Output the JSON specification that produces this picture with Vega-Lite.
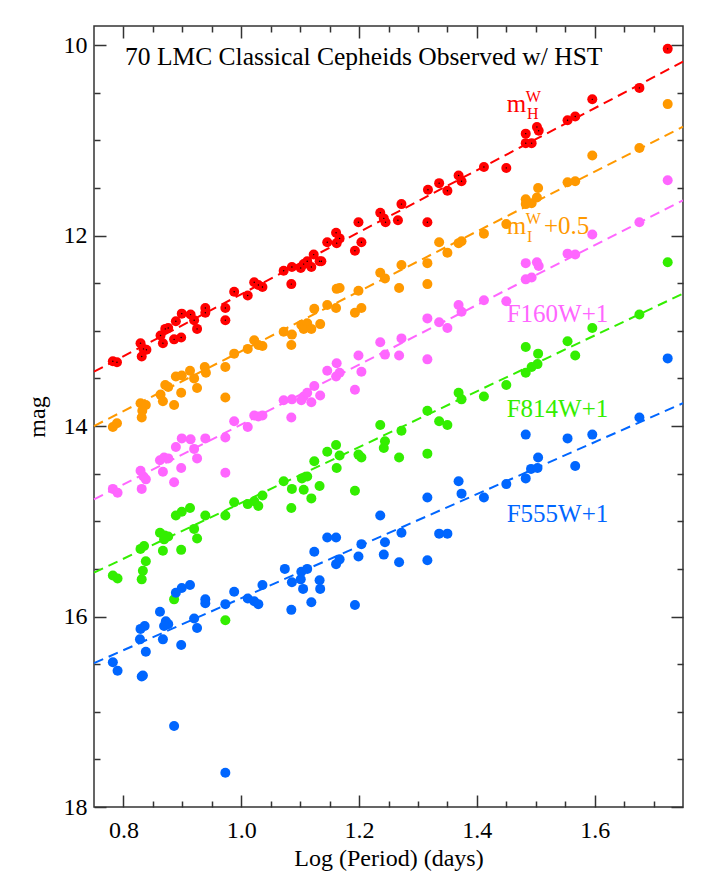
{
  "$schema": "https://vega.github.io/schema/vega-lite/v6.json",
  "autosize": {"type": "none"},
  "padding": {"left": 94, "top": 26, "right": 22, "bottom": 65},
  "width": 589,
  "height": 781,
  "background": "white",
  "config": {
    "view": {"stroke": "#333", "strokeWidth": 1.5},
    "axis": {
      "grid": false, "domain": false,
      "labelFont": "Liberation Serif", "labelFontSize": 24, "labelColor": "#000",
      "titleFont": "Liberation Serif", "titleFontSize": 24, "titleFontWeight": "normal", "titleColor": "#000",
      "tickColor": "#333", "tickWidth": 1.5
    }
  },
  "datasets": {
    "pts": [
      {"b":"H","p":0.782,"m":13.32},{"b":"H","p":0.789,"m":13.33},{"b":"H","p":0.829,"m":13.13},{"b":"H","p":0.834,"m":13.19},{"b":"H","p":0.839,"m":13.20},{"b":"H","p":0.831,"m":13.27},{"b":"H","p":0.863,"m":13.05},{"b":"H","p":0.867,"m":13.13},{"b":"H","p":0.871,"m":12.98},{"b":"H","p":0.876,"m":12.97},{"b":"H","p":0.886,"m":13.09},{"b":"H","p":0.898,"m":13.07},{"b":"H","p":0.889,"m":12.90},{"b":"H","p":0.899,"m":12.82},{"b":"H","p":0.914,"m":12.83},{"b":"H","p":0.920,"m":12.89},{"b":"H","p":0.925,"m":12.98},{"b":"H","p":0.939,"m":12.76},{"b":"H","p":0.939,"m":12.81},{"b":"H","p":0.973,"m":12.76},{"b":"H","p":0.973,"m":12.89},{"b":"H","p":0.988,"m":12.59},{"b":"H","p":1.011,"m":12.63},{"b":"H","p":1.022,"m":12.49},{"b":"H","p":1.029,"m":12.52},{"b":"H","p":1.036,"m":12.54},{"b":"H","p":1.072,"m":12.37},{"b":"H","p":1.086,"m":12.33},{"b":"H","p":1.085,"m":12.51},{"b":"H","p":1.101,"m":12.34},{"b":"H","p":1.106,"m":12.30},{"b":"H","p":1.112,"m":12.27},{"b":"H","p":1.119,"m":12.33},{"b":"H","p":1.123,"m":12.20},{"b":"H","p":1.133,"m":12.27},{"b":"H","p":1.136,"m":12.27},{"b":"H","p":1.146,"m":12.07},{"b":"H","p":1.161,"m":11.97},{"b":"H","p":1.162,"m":12.08},{"b":"H","p":1.167,"m":12.03},{"b":"H","p":1.193,"m":12.16},{"b":"H","p":1.199,"m":11.86},{"b":"H","p":1.204,"m":12.07},{"b":"H","p":1.236,"m":11.76},{"b":"H","p":1.242,"m":11.82},{"b":"H","p":1.245,"m":11.86},{"b":"H","p":1.266,"m":11.84},{"b":"H","p":1.272,"m":11.67},{"b":"H","p":1.317,"m":11.52},{"b":"H","p":1.336,"m":11.45},{"b":"H","p":1.350,"m":11.53},{"b":"H","p":1.369,"m":11.37},{"b":"H","p":1.374,"m":11.43},{"b":"H","p":1.412,"m":11.28},{"b":"H","p":1.450,"m":11.29},{"b":"H","p":1.316,"m":11.86},{"b":"H","p":1.483,"m":10.93},{"b":"H","p":1.483,"m":11.03},{"b":"H","p":1.493,"m":11.03},{"b":"H","p":1.502,"m":10.86},{"b":"H","p":1.505,"m":10.90},{"b":"H","p":1.554,"m":10.79},{"b":"H","p":1.567,"m":10.75},{"b":"H","p":1.596,"m":10.57},{"b":"H","p":1.676,"m":10.45},{"b":"H","p":1.724,"m":10.04},
      {"b":"I","p":0.782,"m":14.01},{"b":"I","p":0.789,"m":13.97},{"b":"I","p":0.829,"m":13.76},{"b":"I","p":0.838,"m":13.78},{"b":"I","p":0.832,"m":13.84},{"b":"I","p":0.831,"m":13.91},{"b":"I","p":0.863,"m":13.67},{"b":"I","p":0.867,"m":13.74},{"b":"I","p":0.871,"m":13.57},{"b":"I","p":0.876,"m":13.59},{"b":"I","p":0.886,"m":13.78},{"b":"I","p":0.898,"m":13.65},{"b":"I","p":0.889,"m":13.48},{"b":"I","p":0.899,"m":13.47},{"b":"I","p":0.913,"m":13.42},{"b":"I","p":0.920,"m":13.50},{"b":"I","p":0.925,"m":13.60},{"b":"I","p":0.938,"m":13.38},{"b":"I","p":0.940,"m":13.44},{"b":"I","p":0.973,"m":13.38},{"b":"I","p":0.973,"m":13.70},{"b":"I","p":0.988,"m":13.24},{"b":"I","p":1.011,"m":13.19},{"b":"I","p":1.022,"m":13.10},{"b":"I","p":1.029,"m":13.15},{"b":"I","p":1.036,"m":13.16},{"b":"I","p":1.072,"m":13.01},{"b":"I","p":1.086,"m":13.04},{"b":"I","p":1.085,"m":13.15},{"b":"I","p":1.102,"m":12.94},{"b":"I","p":1.106,"m":12.98},{"b":"I","p":1.112,"m":12.92},{"b":"I","p":1.119,"m":12.98},{"b":"I","p":1.124,"m":12.77},{"b":"I","p":1.134,"m":12.93},{"b":"I","p":1.146,"m":12.73},{"b":"I","p":1.161,"m":12.76},{"b":"I","p":1.162,"m":12.56},{"b":"I","p":1.167,"m":12.55},{"b":"I","p":1.193,"m":12.81},{"b":"I","p":1.199,"m":12.58},{"b":"I","p":1.204,"m":12.76},{"b":"I","p":1.236,"m":12.39},{"b":"I","p":1.244,"m":12.45},{"b":"I","p":1.268,"m":12.55},{"b":"I","p":1.272,"m":12.31},{"b":"I","p":1.316,"m":12.29},{"b":"I","p":1.316,"m":12.51},{"b":"I","p":1.336,"m":12.07},{"b":"I","p":1.350,"m":12.18},{"b":"I","p":1.369,"m":12.08},{"b":"I","p":1.374,"m":12.06},{"b":"I","p":1.412,"m":11.98},{"b":"I","p":1.450,"m":11.88},{"b":"I","p":1.483,"m":11.62},{"b":"I","p":1.483,"m":11.67},{"b":"I","p":1.493,"m":11.66},{"b":"I","p":1.502,"m":11.60},{"b":"I","p":1.504,"m":11.50},{"b":"I","p":1.554,"m":11.44},{"b":"I","p":1.567,"m":11.43},{"b":"I","p":1.596,"m":11.16},{"b":"I","p":1.676,"m":11.08},{"b":"I","p":1.724,"m":10.62},
      {"b":"F160W","p":0.782,"m":14.66},{"b":"F160W","p":0.790,"m":14.70},{"b":"F160W","p":0.829,"m":14.47},{"b":"F160W","p":0.834,"m":14.53},{"b":"F160W","p":0.838,"m":14.56},{"b":"F160W","p":0.831,"m":14.66},{"b":"F160W","p":0.862,"m":14.36},{"b":"F160W","p":0.869,"m":14.33},{"b":"F160W","p":0.876,"m":14.34},{"b":"F160W","p":0.867,"m":14.48},{"b":"F160W","p":0.886,"m":14.59},{"b":"F160W","p":0.898,"m":14.44},{"b":"F160W","p":0.889,"m":14.22},{"b":"F160W","p":0.899,"m":14.13},{"b":"F160W","p":0.914,"m":14.14},{"b":"F160W","p":0.920,"m":14.24},{"b":"F160W","p":0.925,"m":14.34},{"b":"F160W","p":0.939,"m":14.13},{"b":"F160W","p":0.973,"m":14.12},{"b":"F160W","p":0.973,"m":14.49},{"b":"F160W","p":0.988,"m":13.95},{"b":"F160W","p":1.011,"m":14.01},{"b":"F160W","p":1.022,"m":13.89},{"b":"F160W","p":1.029,"m":13.90},{"b":"F160W","p":1.036,"m":13.89},{"b":"F160W","p":1.072,"m":13.73},{"b":"F160W","p":1.086,"m":13.72},{"b":"F160W","p":1.085,"m":13.91},{"b":"F160W","p":1.102,"m":13.73},{"b":"F160W","p":1.106,"m":13.69},{"b":"F160W","p":1.112,"m":13.65},{"b":"F160W","p":1.119,"m":13.75},{"b":"F160W","p":1.124,"m":13.58},{"b":"F160W","p":1.134,"m":13.68},{"b":"F160W","p":1.146,"m":13.42},{"b":"F160W","p":1.162,"m":13.34},{"b":"F160W","p":1.161,"m":13.48},{"b":"F160W","p":1.167,"m":13.44},{"b":"F160W","p":1.193,"m":13.62},{"b":"F160W","p":1.199,"m":13.26},{"b":"F160W","p":1.204,"m":13.43},{"b":"F160W","p":1.236,"m":13.12},{"b":"F160W","p":1.244,"m":13.25},{"b":"F160W","p":1.268,"m":13.26},{"b":"F160W","p":1.272,"m":13.08},{"b":"F160W","p":1.316,"m":12.87},{"b":"F160W","p":1.316,"m":13.30},{"b":"F160W","p":1.336,"m":12.91},{"b":"F160W","p":1.350,"m":12.97},{"b":"F160W","p":1.369,"m":12.73},{"b":"F160W","p":1.374,"m":12.80},{"b":"F160W","p":1.412,"m":12.68},{"b":"F160W","p":1.450,"m":12.69},{"b":"F160W","p":1.483,"m":12.29},{"b":"F160W","p":1.483,"m":12.46},{"b":"F160W","p":1.493,"m":12.44},{"b":"F160W","p":1.502,"m":12.28},{"b":"F160W","p":1.505,"m":12.32},{"b":"F160W","p":1.554,"m":12.19},{"b":"F160W","p":1.567,"m":12.20},{"b":"F160W","p":1.596,"m":11.99},{"b":"F160W","p":1.676,"m":11.86},{"b":"F160W","p":1.724,"m":11.42},
      {"b":"F814W","p":0.782,"m":15.57},{"b":"F814W","p":0.790,"m":15.60},{"b":"F814W","p":0.829,"m":15.29},{"b":"F814W","p":0.835,"m":15.26},{"b":"F814W","p":0.838,"m":15.42},{"b":"F814W","p":0.833,"m":15.52},{"b":"F814W","p":0.831,"m":15.61},{"b":"F814W","p":0.862,"m":15.12},{"b":"F814W","p":0.870,"m":15.15},{"b":"F814W","p":0.876,"m":15.16},{"b":"F814W","p":0.869,"m":15.19},{"b":"F814W","p":0.867,"m":15.31},{"b":"F814W","p":0.898,"m":15.30},{"b":"F814W","p":0.889,"m":14.94},{"b":"F814W","p":0.899,"m":14.90},{"b":"F814W","p":0.913,"m":14.86},{"b":"F814W","p":0.920,"m":15.08},{"b":"F814W","p":0.925,"m":15.18},{"b":"F814W","p":0.939,"m":14.94},{"b":"F814W","p":0.973,"m":14.94},{"b":"F814W","p":0.988,"m":14.80},{"b":"F814W","p":1.011,"m":14.82},{"b":"F814W","p":0.886,"m":15.82},{"b":"F814W","p":0.973,"m":16.04},{"b":"F814W","p":1.022,"m":14.79},{"b":"F814W","p":1.029,"m":14.84},{"b":"F814W","p":1.036,"m":14.73},{"b":"F814W","p":1.072,"m":14.58},{"b":"F814W","p":1.086,"m":14.66},{"b":"F814W","p":1.085,"m":14.86},{"b":"F814W","p":1.103,"m":14.55},{"b":"F814W","p":1.106,"m":14.67},{"b":"F814W","p":1.112,"m":14.53},{"b":"F814W","p":1.119,"m":14.76},{"b":"F814W","p":1.124,"m":14.37},{"b":"F814W","p":1.133,"m":14.63},{"b":"F814W","p":1.146,"m":14.27},{"b":"F814W","p":1.161,"m":14.20},{"b":"F814W","p":1.162,"m":14.44},{"b":"F814W","p":1.167,"m":14.31},{"b":"F814W","p":1.193,"m":14.68},{"b":"F814W","p":1.199,"m":14.30},{"b":"F814W","p":1.204,"m":14.33},{"b":"F814W","p":1.236,"m":13.99},{"b":"F814W","p":1.244,"m":14.16},{"b":"F814W","p":1.242,"m":14.23},{"b":"F814W","p":1.268,"m":14.33},{"b":"F814W","p":1.272,"m":14.05},{"b":"F814W","p":1.316,"m":13.84},{"b":"F814W","p":1.316,"m":14.29},{"b":"F814W","p":1.336,"m":13.95},{"b":"F814W","p":1.350,"m":13.99},{"b":"F814W","p":1.369,"m":13.65},{"b":"F814W","p":1.374,"m":13.72},{"b":"F814W","p":1.412,"m":13.69},{"b":"F814W","p":1.450,"m":13.57},{"b":"F814W","p":1.483,"m":13.17},{"b":"F814W","p":1.483,"m":13.44},{"b":"F814W","p":1.493,"m":13.38},{"b":"F814W","p":1.503,"m":13.35},{"b":"F814W","p":1.504,"m":13.24},{"b":"F814W","p":1.554,"m":13.11},{"b":"F814W","p":1.567,"m":13.26},{"b":"F814W","p":1.596,"m":12.97},{"b":"F814W","p":1.676,"m":12.83},{"b":"F814W","p":1.724,"m":12.28},
      {"b":"F555W","p":0.782,"m":16.48},{"b":"F555W","p":0.790,"m":16.57},{"b":"F555W","p":0.831,"m":16.63},{"b":"F555W","p":0.833,"m":16.62},{"b":"F555W","p":0.838,"m":16.37},{"b":"F555W","p":0.828,"m":16.24},{"b":"F555W","p":0.829,"m":16.13},{"b":"F555W","p":0.836,"m":16.10},{"b":"F555W","p":0.862,"m":15.95},{"b":"F555W","p":0.872,"m":16.05},{"b":"F555W","p":0.876,"m":16.08},{"b":"F555W","p":0.869,"m":16.10},{"b":"F555W","p":0.867,"m":16.24},{"b":"F555W","p":0.898,"m":16.30},{"b":"F555W","p":0.889,"m":15.75},{"b":"F555W","p":0.899,"m":15.70},{"b":"F555W","p":0.913,"m":15.67},{"b":"F555W","p":0.920,"m":16.02},{"b":"F555W","p":0.925,"m":16.12},{"b":"F555W","p":0.939,"m":15.82},{"b":"F555W","p":0.939,"m":15.86},{"b":"F555W","p":0.973,"m":15.87},{"b":"F555W","p":0.988,"m":15.74},{"b":"F555W","p":1.011,"m":15.81},{"b":"F555W","p":0.886,"m":17.15},{"b":"F555W","p":0.973,"m":17.64},{"b":"F555W","p":1.022,"m":15.84},{"b":"F555W","p":1.029,"m":15.87},{"b":"F555W","p":1.036,"m":15.67},{"b":"F555W","p":1.074,"m":15.50},{"b":"F555W","p":1.086,"m":15.64},{"b":"F555W","p":1.085,"m":15.93},{"b":"F555W","p":1.102,"m":15.53},{"b":"F555W","p":1.101,"m":15.61},{"b":"F555W","p":1.112,"m":15.50},{"b":"F555W","p":1.105,"m":15.71},{"b":"F555W","p":1.119,"m":15.85},{"b":"F555W","p":1.124,"m":15.32},{"b":"F555W","p":1.133,"m":15.62},{"b":"F555W","p":1.134,"m":15.71},{"b":"F555W","p":1.146,"m":15.17},{"b":"F555W","p":1.161,"m":15.17},{"b":"F555W","p":1.161,"m":15.45},{"b":"F555W","p":1.167,"m":15.40},{"b":"F555W","p":1.193,"m":15.88},{"b":"F555W","p":1.199,"m":15.37},{"b":"F555W","p":1.204,"m":15.24},{"b":"F555W","p":1.236,"m":14.94},{"b":"F555W","p":1.244,"m":15.22},{"b":"F555W","p":1.242,"m":15.35},{"b":"F555W","p":1.268,"m":15.43},{"b":"F555W","p":1.272,"m":15.12},{"b":"F555W","p":1.316,"m":14.75},{"b":"F555W","p":1.316,"m":15.41},{"b":"F555W","p":1.336,"m":15.13},{"b":"F555W","p":1.350,"m":15.13},{"b":"F555W","p":1.369,"m":14.58},{"b":"F555W","p":1.374,"m":14.71},{"b":"F555W","p":1.412,"m":14.75},{"b":"F555W","p":1.450,"m":14.61},{"b":"F555W","p":1.483,"m":14.09},{"b":"F555W","p":1.483,"m":14.55},{"b":"F555W","p":1.492,"m":14.45},{"b":"F555W","p":1.503,"m":14.44},{"b":"F555W","p":1.504,"m":14.33},{"b":"F555W","p":1.554,"m":14.13},{"b":"F555W","p":1.567,"m":14.42},{"b":"F555W","p":1.596,"m":14.09},{"b":"F555W","p":1.676,"m":13.91},{"b":"F555W","p":1.724,"m":13.29}
    ],
    "lines": [
      {"b":"H","p":0.75,"m":13.43},{"b":"H","p":1.75,"m":10.175},
      {"b":"I","p":0.75,"m":14.0},{"b":"I","p":1.75,"m":10.857},
      {"b":"F160W","p":0.75,"m":14.77},{"b":"F160W","p":1.75,"m":11.63},
      {"b":"F814W","p":0.75,"m":15.54},{"b":"F814W","p":1.75,"m":12.61},
      {"b":"F555W","p":0.75,"m":16.49},{"b":"F555W","p":1.75,"m":13.76}
    ],
    "labels": [
      {"b":"H","t":"m","p":1.4507,"m":10.70},
      {"b":"I","t":"m","p":1.4507,"m":11.983},
      {"b":"I","t":"+0.5","p":1.514,"m":11.983},
      {"b":"F160W","t":"F160W+1","p":1.4507,"m":12.907},
      {"b":"F814W","t":"F814W+1","p":1.4507,"m":13.903},
      {"b":"F555W","t":"F555W+1","p":1.4507,"m":15.005}
    ],
    "scripts": [
      {"b":"H","t":"W","p":1.483,"m":10.595},
      {"b":"H","t":"H","p":1.485,"m":10.78},
      {"b":"I","t":"W","p":1.483,"m":11.878},
      {"b":"I","t":"I","p":1.485,"m":12.063}
    ],
    "heading": [
      {"t":"70 LMC Classical Cepheids Observed w/ HST","p":0.8027,"m":10.21}
    ]
  },
  "resolve": {"axis": {"x": "independent", "y": "independent"}},
  "encoding": {
    "x": {"field": "p", "type": "quantitative", "scale": {"domain": [0.75, 1.75], "nice": false, "zero": false}},
    "y": {"field": "m", "type": "quantitative", "scale": {"domain": [9.8, 18], "nice": false, "zero": false, "reverse": true}}
  },
  "layer": [
    {
      "data": {"name": "lines"},
      "mark": {"type": "line", "strokeDash": [10, 6], "strokeWidth": 2},
      "encoding": {
        "x": {"field": "p", "type": "quantitative", "axis": {"orient": "bottom", "values": [0.8, 1.0, 1.2, 1.4, 1.6], "format": ".1f", "ticks": false, "labelPadding": 11, "title": "Log (Period) (days)", "titlePadding": 4}},
        "y": {"field": "m", "type": "quantitative", "axis": {"orient": "left", "values": [10, 12, 14, 16, 18], "format": "d", "ticks": false, "labelPadding": 7, "title": "mag", "titlePadding": 14}},
        "color": {"field": "b", "type": "nominal", "legend": null, "scale": {"domain": ["H", "I", "F160W", "F814W", "F555W"], "range": ["#ff0000", "#ff9900", "#ff66ff", "#33ee00", "#0066ff"]}},
        "detail": {"field": "b"}
      }
    },
    {
      "data": {"name": "pts"},
      "mark": {"type": "circle", "size": 100, "opacity": 1},
      "encoding": {
        "x": {"field": "p", "type": "quantitative", "axis": {"orient": "bottom", "values": [0.8, 1.0, 1.2, 1.4, 1.6], "labels": false, "tickSize": -12, "title": null}},
        "y": {"field": "m", "type": "quantitative", "axis": {"orient": "left", "values": [10, 12, 14, 16, 18], "labels": false, "tickSize": -12, "title": null}},
        "color": {"field": "b", "type": "nominal", "legend": null}
      }
    },
    {
      "data": {"name": "pts"},
      "transform": [{"filter": "datum.b === 'H'"}],
      "mark": {"type": "circle", "size": 2, "color": "#000", "opacity": 1},
      "encoding": {
        "x": {"field": "p", "type": "quantitative", "axis": {"orient": "bottom", "values": [0.85, 0.9, 0.95, 1.05, 1.1, 1.15, 1.25, 1.3, 1.35, 1.45, 1.5, 1.55, 1.65, 1.7], "labels": false, "tickSize": -6, "title": null}},
        "y": {"field": "m", "type": "quantitative", "axis": {"orient": "left", "values": [10.5, 11, 11.5, 12.5, 13, 13.5, 14.5, 15, 15.5, 16.5, 17, 17.5], "labels": false, "tickSize": -6, "title": null}}
      }
    },
    {
      "data": {"name": "labels"},
      "mark": {"type": "text", "font": "Liberation Serif", "fontSize": 25, "align": "left", "baseline": "alphabetic"},
      "encoding": {
        "x": {"field": "p", "type": "quantitative", "axis": {"orient": "top", "values": [0.8, 1.0, 1.2, 1.4, 1.6], "labels": false, "tickSize": -12, "title": null}},
        "y": {"field": "m", "type": "quantitative", "axis": {"orient": "right", "values": [10, 12, 14, 16, 18], "labels": false, "tickSize": -12, "title": null}},
        "text": {"field": "t"},
        "color": {"field": "b", "type": "nominal", "legend": null}
      }
    },
    {
      "data": {"name": "scripts"},
      "mark": {"type": "text", "font": "Liberation Serif", "fontSize": 16, "align": "left", "baseline": "alphabetic"},
      "encoding": {
        "x": {"field": "p", "type": "quantitative", "axis": {"orient": "top", "values": [0.85, 0.9, 0.95, 1.05, 1.1, 1.15, 1.25, 1.3, 1.35, 1.45, 1.5, 1.55, 1.65, 1.7], "labels": false, "tickSize": -6, "title": null}},
        "y": {"field": "m", "type": "quantitative", "axis": {"orient": "right", "values": [10.5, 11, 11.5, 12.5, 13, 13.5, 14.5, 15, 15.5, 16.5, 17, 17.5], "labels": false, "tickSize": -6, "title": null}},
        "text": {"field": "t"},
        "color": {"field": "b", "type": "nominal", "legend": null}
      }
    },
    {
      "data": {"name": "heading"},
      "mark": {"type": "text", "font": "Liberation Serif", "fontSize": 25.5, "align": "left", "baseline": "alphabetic", "color": "#000"},
      "encoding": {
        "x": {"field": "p", "type": "quantitative", "axis": null},
        "y": {"field": "m", "type": "quantitative", "axis": null},
        "text": {"field": "t"}
      }
    }
  ]
}
